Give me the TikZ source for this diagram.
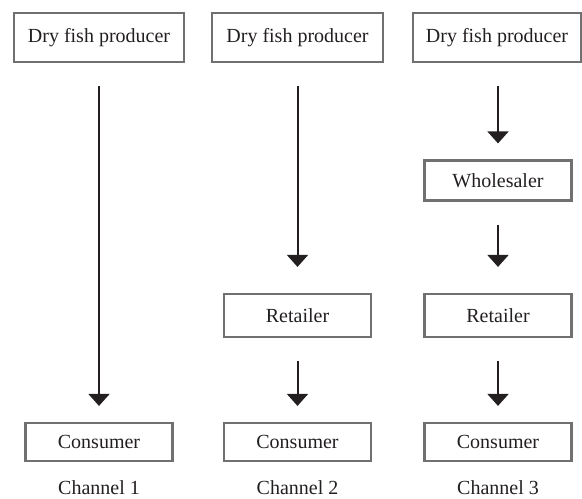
\documentclass[tikz,border=0pt]{standalone}
\usepackage{fontspec}
\setmainfont{Liberation Serif}
\usetikzlibrary{positioning, arrows.meta}
\definecolor{borda}{HTML}{707070}
\definecolor{tinta}{HTML}{231F20}
\tikzset{arco/.style={line width=1pt, draw=tinta, -{Triangle[length=6pt, width=10.5pt]}, shorten <=11.5pt, shorten >=8pt}}
\tikzset{caixa/.style={draw=borda, line width=1.1pt, minimum width=73.5pt, minimum height=20pt, inner sep=0pt}}

\begin{document}
\begin{tikzpicture}[
                x=0.5pt, y=-0.5pt,
                every node/.style={text=tinta, font=\fontsize{10}{12}\selectfont}
            ]
                \useasboundingbox (0,0) rectangle (582,498);
                % channel 1
                \node[caixa, minimum width=85pt, minimum height=24.5pt](p1) at (99,37.5) {Dry fish producer};
                \node[caixa, minimum height=19pt](c1) at (99,442) {Consumer};
                \node[](l1) at (99,488) {Channel 1};
                % channel 2
                \node[caixa, minimum width=85.5pt, minimum height=24.5pt](p2) at (297.5,37.5) {Dry fish producer};
                \node[caixa, minimum height=21.5pt](r2) at (297.5,315.5) {Retailer};
                \node[caixa, minimum height=19pt](c2) at (297.5,442) {Consumer};
                \node[](l2) at (297.5,488) {Channel 2};
                % channel 3
                \node[caixa, minimum width=84pt, minimum height=24.5pt](p3) at (497,37.5) {Dry fish producer};
                \node[caixa, minimum height=20pt](w3) at (498,180.5) {Wholesaler};
                \node[caixa, minimum height=21.5pt](r3) at (498,315.5) {Retailer};
                \node[caixa, minimum height=19pt](c3) at (498,442) {Consumer};
                \node[](l3) at (498,488) {Channel 3};

                \draw[arco] (p1) to [] (c1);
                \draw[arco, shorten >=13pt] (p2.south) to [] (r2.north);
                \draw[arco] (r2) to [] (c2);
                \draw[arco] (p3.south -| w3) to [] (w3);
                \draw[arco, shorten >=13pt] (w3) to [] (r3);
                \draw[arco] (r3) to [] (c3);
            \end{tikzpicture}
\end{document}
